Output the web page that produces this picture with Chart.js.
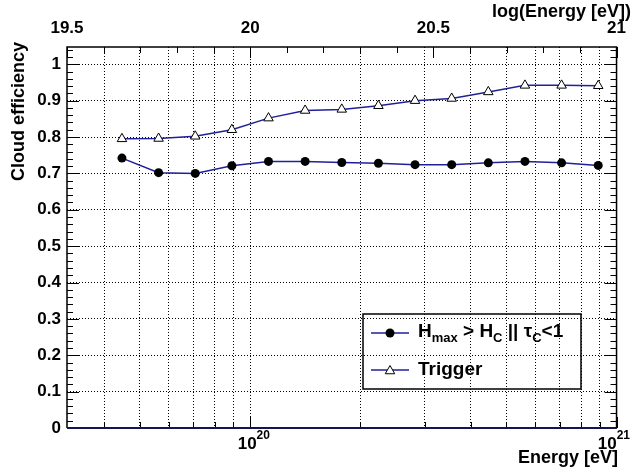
<!DOCTYPE html>
<html>
<head>
<meta charset="utf-8">
<title>Cloud efficiency</title>
<script src="https://cdn.jsdelivr.net/npm/chart.js@4.4.1/dist/chart.umd.min.js"></script>
<style>
  body { margin: 0; background: #fff; }
  canvas { display: block; }
</style>
</head>
<body>
<canvas id="chart" width="634" height="471"></canvas>
<script>
// values
const logEnergy = [19.65, 19.75, 19.85, 19.95, 20.05, 20.15, 20.25, 20.35, 20.45, 20.55, 20.65, 20.75, 20.85, 20.95];
const cloudEff = [0.742, 0.702, 0.700, 0.721, 0.733, 0.733, 0.730, 0.728, 0.724, 0.724, 0.729, 0.733, 0.729, 0.722];
const triggerEff = [0.795, 0.796, 0.802, 0.820, 0.852, 0.873, 0.876, 0.886, 0.900, 0.906, 0.924, 0.942, 0.942, 0.941];

const yTicks = [0, 0.1, 0.2, 0.3, 0.4, 0.5, 0.6, 0.7, 0.8, 0.9, 1];
const topTicks = [19.5, 20, 20.5, 21];
const bottomTicks = [4e19, 5e19, 6e19, 7e19, 8e19, 9e19, 1e20, 2e20, 3e20, 4e20, 5e20, 6e20, 7e20, 8e20, 9e20, 1e21];
const bottomLabelValues = [1e20, 1e21];
const bottomLabelExp = ["20", "21"];

const lineColor = "#20209a";
const FONT = '"Liberation Sans", Arial, sans-serif';

Chart.defaults.font.family = FONT;
Chart.defaults.color = "#000";

function line(ctx, x1, y1, x2, y2) {
  ctx.beginPath();
  ctx.moveTo(x1, y1);
  ctx.lineTo(x2, y2);
  ctx.stroke();
}

function triangle(ctx, x, y, r) {
  ctx.beginPath();
  ctx.moveTo(x, y - r);
  ctx.lineTo(x + 0.866 * r, y + r / 2);
  ctx.lineTo(x - 0.866 * r, y + r / 2);
  ctx.closePath();
  ctx.fillStyle = "#fff";
  ctx.fill();
  ctx.stroke();
}

const framePlugin = {
  id: "frame",
  afterDraw(chart) {
    const ctx = chart.ctx;
    const a = chart.chartArea;
    const y = chart.scales.y;
    const xb = chart.scales.x;
    const xt = chart.scales.xTop;
    ctx.save();
    ctx.strokeStyle = "#000";
    ctx.lineWidth = 1;

    // y ticks, both sides
    for (let i = 0; i <= 52; i++) {
      const p = Math.round(y.getPixelForValue(i * 0.02)) + 0.5;
      const len = i % 5 === 0 ? 12 : 6;
      line(ctx, a.left, p, a.left + len, p);
      line(ctx, a.right, p, a.right - len, p);
    }
    // top ticks
    for (let i = 0; i <= 15; i++) {
      const p = Math.round(xt.getPixelForValue(19.5 + i * 0.1)) + 0.5;
      const len = i % 5 === 0 ? 11 : 6;
      line(ctx, p, a.top, p, a.top + len);
    }
    // bottom ticks
    bottomTicks.forEach(v => {
      const p = Math.round(xb.getPixelForValue(v)) + 0.5;
      const len = bottomLabelValues.includes(v) ? 11 : 6;
      line(ctx, p, a.bottom, p, a.bottom - len);
    });

    // frame
    ctx.lineWidth = 1.5;
    ctx.beginPath();
    ctx.moveTo(a.left, a.bottom);
    ctx.lineTo(a.left, a.top);
    ctx.lineTo(a.right, a.top);
    ctx.lineTo(a.right, a.bottom);
    ctx.stroke();
    ctx.strokeStyle = "#141450";
    ctx.lineWidth = 2;
    line(ctx, a.left, a.bottom, a.right, a.bottom);

    // bottom labels 10^n
    ctx.fillStyle = "#000";
    ctx.textAlign = "left";
    ctx.textBaseline = "alphabetic";
    bottomLabelValues.forEach((v, i) => {
      const p = xb.getPixelForValue(v);
      ctx.font = "bold 17px " + FONT;
      const w1 = ctx.measureText("10").width;
      ctx.font = "bold 12px " + FONT;
      const w2 = ctx.measureText(bottomLabelExp[i]).width;
      const left = Math.min(p - 12.5, 630 - w1 - w2);
      ctx.font = "bold 17px " + FONT;
      ctx.fillText("10", left, 449);
      ctx.font = "bold 12px " + FONT;
      ctx.fillText(bottomLabelExp[i], left + w1, 439);
    });

    // axis titles
    ctx.font = "bold 18px " + FONT;
    ctx.textAlign = "right";
    ctx.fillText("Energy [eV]", 618, 463);
    ctx.fillText("log(Energy [eV])", 631, 17);
    ctx.save();
    ctx.translate(24, 42);
    ctx.rotate(-Math.PI / 2);
    ctx.fillText("Cloud efficiency", 0, 0);
    ctx.restore();

    // legend
    ctx.strokeStyle = "#000";
    ctx.lineWidth = 1.5;
    ctx.strokeRect(363, 314, 218, 75);

    ctx.strokeStyle = lineColor;
    ctx.lineWidth = 1.5;
    line(ctx, 371, 333, 409, 333);
    line(ctx, 371, 370, 409, 370);
    ctx.fillStyle = "#000";
    ctx.beginPath();
    ctx.arc(390, 333, 4.5, 0, Math.PI * 2);
    ctx.fill();
    ctx.strokeStyle = "#000";
    ctx.lineWidth = 1;
    triangle(ctx, 390, 371, 5.5);

    ctx.fillStyle = "#000";
    ctx.textAlign = "left";
    const parts = [["H", 19, 0], ["max", 13, 5], [" > H", 19, 0], ["C", 13, 5],
                   [" || ", 19, 0], ["\u03c4", 19, 0], ["C", 13, 5], ["<1", 19, 0]];
    let tx = 418;
    parts.forEach(pt => {
      ctx.font = "bold " + pt[1] + "px " + FONT;
      ctx.fillText(pt[0], tx, 337 + pt[2]);
      tx += ctx.measureText(pt[0]).width;
    });
    ctx.font = "bold 19px " + FONT;
    ctx.fillText("Trigger", 418, 375);

    ctx.restore();
  }
};

const gridDotted = { color: "#000", lineWidth: 1, drawTicks: false };

new Chart(document.getElementById("chart"), {
  type: "line",
  data: {
    datasets: [
      {
        label: "Trigger",
        data: logEnergy.map((e, i) => ({ x: e, y: triggerEff[i] })),
        xAxisID: "xTop",
        yAxisID: "y",
        borderColor: lineColor,
        borderWidth: 1.5,
        pointStyle: "triangle",
        pointRadius: 5.5,
        pointBackgroundColor: "#fff",
        pointBorderColor: "#000",
        pointBorderWidth: 1,
        tension: 0
      },
      {
        label: "Hmax > HC || tauC<1",
        data: logEnergy.map((e, i) => ({ x: e, y: cloudEff[i] })),
        xAxisID: "xTop",
        yAxisID: "y",
        borderColor: lineColor,
        borderWidth: 1.5,
        pointStyle: "circle",
        pointRadius: 4.5,
        pointBackgroundColor: "#000",
        pointBorderColor: "#000",
        pointBorderWidth: 0,
        tension: 0
      }
    ]
  },
  options: {
    responsive: false,
    devicePixelRatio: 1,
    animation: false,
    layout: { padding: { left: 0, right: 16, top: 0, bottom: 0 } },
    plugins: { legend: { display: false }, tooltip: { enabled: false } },
    scales: {
      xTop: {
        type: "linear",
        position: "top",
        min: 19.5,
        max: 21,
        afterBuildTicks: s => { s.ticks = topTicks.map(v => ({ value: v })); },
        afterFit: s => { s.height = 47; },
        grid: { display: false, drawTicks: false },
        border: { display: false },
        ticks: { font: { size: 17, weight: "bold" }, padding: 8, maxRotation: 0, callback: v => String(v) }
      },
      x: {
        type: "logarithmic",
        position: "bottom",
        min: Math.pow(10, 19.5),
        max: 1e21,
        afterBuildTicks: s => { s.ticks = bottomTicks.map(v => ({ value: v })); },
        afterFit: s => { s.height = 43; },
        grid: gridDotted,
        border: { display: false, dash: [1, 2] },
        ticks: { display: false }
      },
      y: {
        min: 0,
        max: 1.0475,
        afterBuildTicks: s => { s.ticks = yTicks.map(v => ({ value: v })); },
        afterFit: s => { s.width = 67; },
        grid: gridDotted,
        border: { display: false, dash: [1, 2] },
        ticks: { font: { size: 17, weight: "bold" }, padding: 6, callback: v => String(Math.round(v * 10) / 10) }
      }
    }
  },
  plugins: [framePlugin]
});
</script>
</body>
</html>
